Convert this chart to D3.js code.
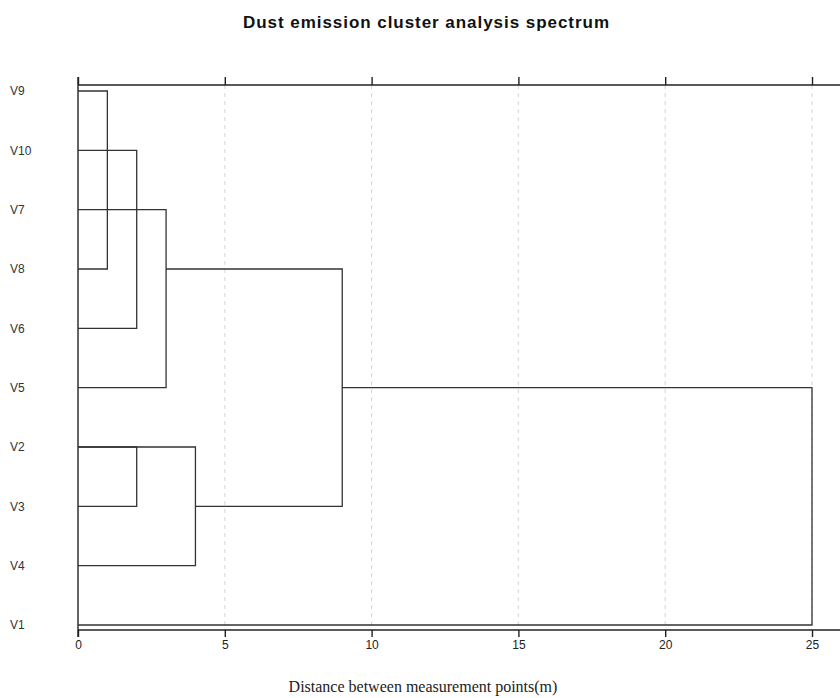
<!DOCTYPE html>
<html>
<head>
<meta charset="utf-8">
<script src="https://cdn.jsdelivr.net/npm/d3@7"></script>
<style>
  body { margin: 0; background: #fff; }
  svg { display: block; }
</style>
</head>
<body>
<div id="chart"></div>
<script>
// leaves, top to bottom
var leaves = ["V9", "V10", "V7", "V8", "V6", "V5", "V2", "V3", "V4", "V1"];

// each bracket: top row, bottom row, merge distance, where top arm starts, where bottom arm starts
var mergeTop    = ["V9", "V10", "V7", "V2", "V2", "V8", "V5"];
var mergeBottom = ["V8", "V6",  "V5", "V3", "V4", "V3", "V1"];
var mergeDist   = [1,    2,     3,    2,    4,    9,    25];
var topFrom     = [0,    0,     0,    0,    0,    3,    9];
var bottomFrom  = [0,    0,     0,    0,    0,    4,    0];

var xTicks = [0, 5, 10, 15, 20, 25];

var width = 840, height = 698;
var svg = d3.select("#chart").append("svg")
    .attr("width", width)
    .attr("height", height);

var x = d3.scaleLinear().domain([0, 25]).range([78, 812]);
var y = d3.scalePoint().domain(leaves).range([91, 625]);
var axisTop = 85, axisBottom = 630;

// title
svg.append("text")
    .attr("x", 426).attr("y", 28)
    .attr("text-anchor", "middle")
    .attr("textLength", 366)
    .attr("lengthAdjust", "spacing")
    .style("font-family", "Liberation Sans, Arial, sans-serif")
    .style("font-weight", "bold")
    .style("font-size", "17px")
    .style("fill", "#111")
    .text("Dust emission cluster analysis spectrum");

// dashed gridlines
svg.append("g").selectAll("line")
    .data(xTicks.slice(1))
  .enter().append("line")
    .attr("x1", function(d) { return x(d); })
    .attr("x2", function(d) { return x(d); })
    .attr("y1", axisTop).attr("y2", axisBottom)
    .style("stroke", "#d6d6d6")
    .style("stroke-width", 1)
    .style("stroke-dasharray", "4,4");

// bottom axis
var gBottom = svg.append("g")
    .attr("transform", "translate(0," + axisBottom + ")")
    .call(d3.axisBottom(x).tickValues(xTicks).tickSize(7).tickPadding(3));
gBottom.select(".domain").remove();
gBottom.append("line")
    .attr("x1", x(0)).attr("x2", width)
    .style("stroke", "#222").style("stroke-width", 1.3);

// top axis (ticks, no labels)
var gTop = svg.append("g")
    .attr("transform", "translate(0," + axisTop + ")")
    .call(d3.axisTop(x).tickValues(xTicks).tickSize(8).tickFormat(""));
gTop.select(".domain").remove();
gTop.append("line")
    .attr("x1", x(0)).attr("x2", width)
    .style("stroke", "#222").style("stroke-width", 1.3);

svg.selectAll(".tick line").style("stroke", "#222").style("stroke-width", 1.4);
gBottom.selectAll(".tick text")
    .style("font-family", "Liberation Sans, Arial, sans-serif")
    .style("font-size", "12px")
    .style("fill", "#222");

// left axis line
svg.append("line")
    .attr("x1", x(0)).attr("x2", x(0))
    .attr("y1", axisTop - 8).attr("y2", axisBottom + 7)
    .style("stroke", "#222").style("stroke-width", 1.4);

// leaf labels
svg.append("g").selectAll("text")
    .data(leaves)
  .enter().append("text")
    .attr("x", 10)
    .attr("y", function(d) { return y(d); })
    .attr("dy", "0.35em")
    .style("font-family", "Liberation Sans, Arial, sans-serif")
    .style("font-size", "12px")
    .style("fill", "#333")
    .text(function(d) { return d; });

// brackets
var brackets = mergeTop.map(function(t, i) {
  return { top: t, bottom: mergeBottom[i], dist: mergeDist[i], a: topFrom[i], b: bottomFrom[i] };
});

svg.append("g").selectAll("path")
    .data(brackets)
  .enter().append("path")
    .attr("d", function(d) {
      return "M" + x(d.a) + "," + y(d.top) +
             "H" + x(d.dist) +
             "V" + y(d.bottom) +
             "H" + x(d.b);
    })
    .style("fill", "none")
    .style("stroke", "#333")
    .style("stroke-width", 1.3);

// x label
svg.append("text")
    .attr("x", 423).attr("y", 692)
    .attr("text-anchor", "middle")
    .style("font-family", "Liberation Serif, Times New Roman, serif")
    .style("font-size", "16px")
    .style("fill", "#222")
    .text("Distance between measurement points(m)");
</script>
</body>
</html>
